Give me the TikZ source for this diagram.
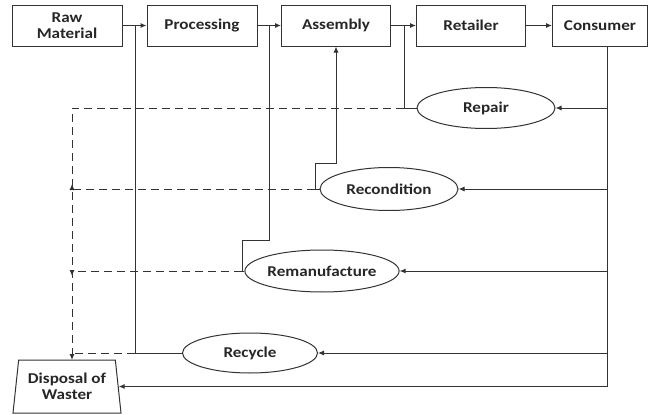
\documentclass[tikz,border=0pt]{standalone}
\usepackage{fontspec}
\setmainfont{Carlito}[FakeStretch=1.14]
\usepackage{tikz}
\usetikzlibrary{calc,positioning,arrows.meta,shapes.geometric}
\tikzstyle{stage} = [rectangle, draw, minimum width=110, minimum height=41,
                     text centered, align=center, inner sep=0pt]
\tikzstyle{route} = [ellipse, draw, minimum width=136, minimum height=41,
                     inner sep=0pt]
\tikzstyle{bin}   = [trapezium, draw, trapezium left angle=78, trapezium right angle=78,
                     trapezium stretches body, minimum width=108, minimum height=53,
                     align=center, inner sep=0pt]
\tikzstyle{arrow} = [-{Latex[length=6pt,width=5pt]}]
\tikzstyle{waste} = [dash pattern=on 8pt off 5pt]

\begin{document}
\begin{tikzpicture}[x=1pt, y=-1pt, line width=1pt, draw=black!80,
		every node/.style={font=\fontsize{15}{16}\selectfont\bfseries, text=black!85}]
		\useasboundingbox (0,0) rectangle (649,415);
		% supply chain
		\node[stage] (raw)  at (67,25.5)  {Raw\\Material};
		\node[stage] (proc) at (202,25.5) {Processing};
		\node[stage, minimum width=109] (asm) at (336,25.5) {Assembly};
		\node[stage, minimum width=109] (ret) at (471,25.5) {Retailer};
		\node[stage, minimum width=95]  (con) at (600,25.5) {Consumer};
		\draw[arrow] (raw) -- (proc);
		\draw[arrow] (proc) -- (asm);
		\draw[arrow] (asm) -- (ret);
		\draw[arrow] (ret) -- (con);

		% recovery options
		\node[route, minimum width=138] (rep) at (486,108) {Repair};
		\node[route, minimum width=138, minimum height=43] (rec) at (389,189) {Recondition};
		\node[route, minimum width=135, minimum height=42] (rem) at (322,271) {Remanufacture};
		\node[route, minimum width=135, minimum height=40] (rcy) at (250,353) {Recycle};
		\node[bin] (disp) at (67,386.5) {Disposal of\\Waster};

		\coordinate (p1) at (135,25.5);
		\coordinate (p2) at (269,25.5);
		\coordinate (k2) at (242,240);
		\coordinate (k3) at (315,163);
		\coordinate (p4) at (404,25.5);
		\coordinate (c0) at (607,46);
		\coordinate (dx) at (72,360);

		% from consumer
		\draw[arrow] (c0) |- (disp.east);
		\draw[arrow] (c0 |- rep) -- (rep.east);
		\draw[arrow] (c0 |- rec) -- (rec.east);
		\draw[arrow] (c0 |- rem) -- (rem.east);
		\draw[arrow] (c0 |- rcy) -- (rcy.east);

		% back into the chain
		\draw (rep.west) -| (p4);
		\draw[arrow] (rec.west) -| (k3) -| (asm.south);
		\draw (rem.west) -| (k2) -| (p2);
		\draw (rcy.west) -| (p1);

		% waste
		\draw[waste, arrow] (p4 |- rep) -| (dx);
		\draw[waste, arrow] (k3 |- rec) -| ($(dx |- rec)+(0,-5)$);
		\draw[waste, arrow] (k2 |- rem) -| ($(dx |- rem)+(0,5)$);
		\draw[waste] (p1 |- rcy) -- (dx |- rcy);
	\end{tikzpicture}
\end{document}
